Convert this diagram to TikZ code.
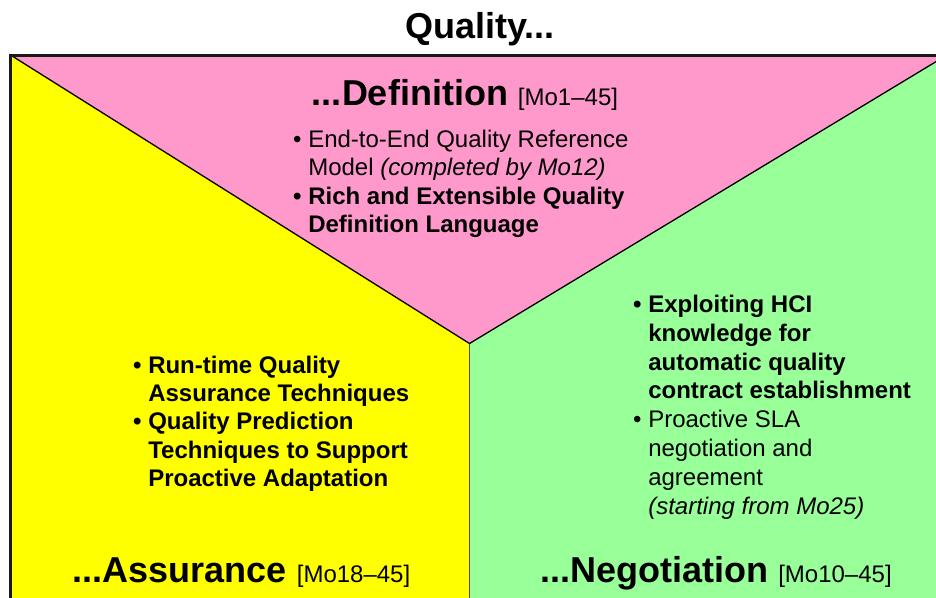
\documentclass[tikz,border=0pt]{standalone}
\usepackage{fontspec}
\setmainfont{Liberation Sans}
\definecolor{defpink}{HTML}{FF99CC}
\definecolor{assyellow}{HTML}{FFFF00}
\definecolor{neggreen}{HTML}{99FF99}
% smaller, regular font for the month ranges after each heading
\newcommand\monthfont{\fontsize{24}{28}\selectfont\mdseries}
\begin{document}
\begin{tikzpicture}[x=1pt,y=-1pt,
  txt/.style={anchor=base west, inner sep=0pt, font=\fontsize{24}{28}\selectfont},
  btxt/.style={txt, font=\fontsize{24}{28}\selectfont\bfseries},
  head/.style={anchor=base, inner sep=0pt, font=\fontsize{36}{40}\selectfont\bfseries},
  divider/.style={line width=1.3pt, black},
  frameline/.style={line width=3pt, black!90}]
\useasboundingbox (0,0) rectangle (936,597);
\clip (0,0) rectangle (936,597);

% corner and split points of the three regions
\coordinate (tl) at (10.5,55);
\coordinate (tr) at (947,55);
\coordinate (far) at (970,55);
\coordinate (apex) at (469.5,343.5);
\coordinate (bl) at (10.5,620);
\coordinate (bm) at (469.5,620);
\coordinate (br) at (970,620);

% region fills
\fill[assyellow] (tl) -- (apex) -- (bm) -- (bl) -- cycle;
\fill[neggreen] (apex) -- (tr) -- (far) -- (br) -- (bm) -- cycle;
\fill[defpink] (tl) -- (tr) -- (apex) -- cycle;

% region borders
\draw[divider] (tl) -- (apex) -- (tr);
\draw[line width=1.5pt, black!70] (apex) -- (bm);
\draw[frameline] (bl) -- (tl) -- (far);

% title
\node[head] (title) at (480,38) {Quality...};

% Definition
\node[head] (defhead) at (465,105) {...Definition {\monthfont [Mo1–45]}};
\node[txt]  (d1) at (293,147) {• End-to-End Quality Reference};
\node[txt]  (d2) at (293,175) {\hphantom{• }Model \textit{(completed by Mo12)}};
\node[btxt] (d3) at (293,204) {• Rich and Extensible Quality};
\node[btxt] (d4) at (293,232) {\hphantom{• }Definition Language};

% Assurance
\node[btxt] (a1) at (133,373) {• Run-time Quality};
\node[btxt] (a2) at (133,401) {\hphantom{• }Assurance Techniques};
\node[btxt] (a3) at (133,429) {• Quality Prediction};
\node[btxt] (a4) at (133,458) {\hphantom{• }Techniques to Support};
\node[btxt] (a5) at (133,486) {\hphantom{• }Proactive Adaptation};
\node[head] (asshead) at (241.5,582) {...Assurance {\monthfont [Mo18–45]}};

% Negotiation
\node[btxt] (n1) at (633,312) {• Exploiting HCI};
\node[btxt] (n2) at (633,341) {\hphantom{• }knowledge for};
\node[btxt] (n3) at (633,370) {\hphantom{• }automatic quality};
\node[btxt] (n4) at (633,398) {\hphantom{• }contract establishment};
\node[txt]  (n5) at (633,427) {• Proactive SLA};
\node[txt]  (n6) at (633,456) {\hphantom{• }negotiation and};
\node[txt]  (n7) at (633,485) {\hphantom{• }agreement};
\node[txt]  (n8) at (633,514) {\hphantom{• }\textit{(starting from Mo25)}};
\node[head] (neghead) at (716,582) {...Negotiation {\monthfont [Mo10–45]}};
\end{tikzpicture}
\end{document}
